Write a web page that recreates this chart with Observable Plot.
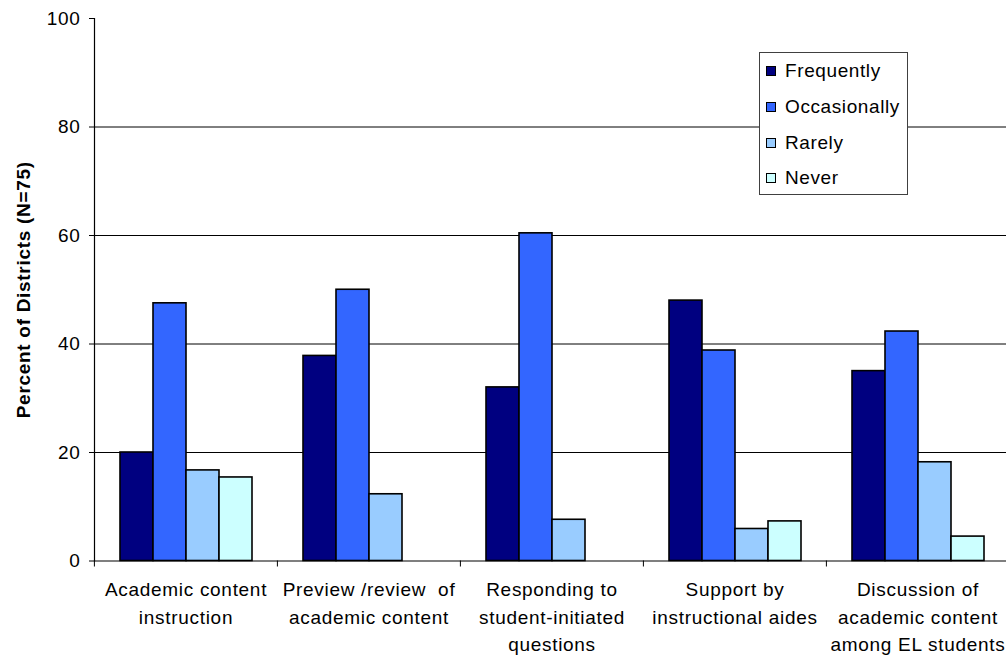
<!DOCTYPE html>
<html>
<head>
<meta charset="utf-8">
<script src="https://cdn.jsdelivr.net/npm/d3@7"></script>
<script src="https://cdn.jsdelivr.net/npm/@observablehq/plot@0.6"></script>
<style>
  html, body { margin: 0; padding: 0; background: #fff; overflow: hidden; width: 1006px; height: 658px; }
  #wrap { position: relative; width: 1006px; height: 658px; overflow: hidden; font-family: "Liberation Sans", Arial, sans-serif; }
  #legend { position: absolute; left: 759px; top: 52px; width: 149px; height: 143px; background: #fff; border: 1px solid #404040; box-sizing: border-box; }
  .item { position: absolute; left: 6px; height: 22px; display: flex; align-items: center; font-size: 19px; letter-spacing: 0.6px; color: #000; white-space: nowrap; }
  .sw { width: 8px; height: 8px; border: 1.5px solid #000; margin-right: 9px; flex: none; }
</style>
</head>
<body>
<div id="wrap"><div id="chart"></div><div id="legend"></div></div>
<script>
const categories = [
  "Academic content\ninstruction",
  "Preview /review  of\nacademic content",
  "Responding to\nstudent-initiated\nquestions",
  "Support by\ninstructional aides",
  "Discussion of\nacademic content\namong EL students"
];
const series = ["Frequently", "Occasionally", "Rarely", "Never"];
const frequently   = [20.0, 37.8, 32.0, 48.0, 35.0];
const occasionally = [47.5, 50.0, 60.4, 38.8, 42.3];
const rarely       = [16.7, 12.3, 7.6, 5.9, 18.2];
const never        = [15.4, null, null, 7.3, 4.5];
const colors = ["#000080", "#3366FF", "#99CCFF", "#CCFFFF"];
const yTicks = [0, 20, 40, 60, 80, 100];
const yGrid = [20, 40, 60, 80];
const yLabel = "Percent of Districts (N=75)";

const seriesValues = [frequently, occasionally, rarely, never];
const data = categories.flatMap((c, i) =>
  series.map((s, j) => ({category: c, series: s, value: seriesValues[j][i]}))
).filter(d => d.value != null);

const W = 1012, H = 658, ML = 93, MR = 3, MT = 18, MB = 97.5;
const halfBand = (W - ML - MR) / categories.length / 2;

const chart = Plot.plot({
  width: W,
  height: H,
  marginLeft: ML,
  marginRight: MR,
  marginTop: MT,
  marginBottom: MB,
  style: {fontFamily: '"Liberation Sans", Arial, sans-serif', fontSize: "19px", letterSpacing: "0.7px", color: "#000", background: "#fff", maxWidth: "none"},
  fx: {domain: categories, padding: 0, label: null},
  x: {domain: series, paddingInner: 0, paddingOuter: 0.7, axis: null},
  y: {domain: [0, 100], axis: null},
  color: {domain: series, range: colors},
  marks: [
    Plot.gridY(yGrid, {stroke: "#000", strokeOpacity: 1, strokeWidth: 1}),
    Plot.barY(data, {fx: "category", x: "series", y: "value", fill: "series", stroke: "#000", strokeWidth: 1.6}),
    Plot.ruleY([0], {stroke: "#000", strokeWidth: 1.2}),
    Plot.frame({anchor: "left", facetAnchor: "left", stroke: "#000", strokeWidth: 1.2}),
    Plot.axisY({ticks: yTicks, tickSize: 5, tickPadding: 9, fontSize: 19, label: null, stroke: "#000"}),
    Plot.text([yLabel], {frameAnchor: "left", rotate: -90, dx: -71, textAnchor: "middle", fontWeight: "bold", fontSize: 19, facetAnchor: "left", fill: "#000"}),
    Plot.axisFx({anchor: "bottom", tickSize: 0, tickPadding: 15.5, lineHeight: 1.45, fontSize: 19, label: null}),
    Plot.axisFx({anchor: "bottom", tickSize: 6, tickFormat: () => "", dx: -halfBand, label: null, stroke: "#000"})
  ]
});
chart.style.maxWidth = "none";
document.getElementById("chart").appendChild(chart);

const legend = document.getElementById("legend");
const rowTops = [7, 43, 79, 114];
series.forEach((s, i) => {
  const it = document.createElement("div");
  it.className = "item";
  it.style.top = rowTops[i] + "px";
  const sw = document.createElement("div");
  sw.className = "sw";
  sw.style.background = colors[i];
  it.appendChild(sw);
  it.appendChild(document.createTextNode(s));
  legend.appendChild(it);
});
</script>
</body>
</html>
